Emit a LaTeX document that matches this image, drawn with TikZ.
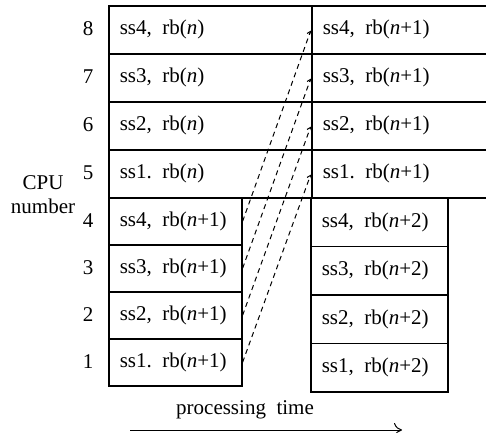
\documentclass[tikz,border=0pt]{standalone}
\usepackage{fontspec}
\setmainfont{Liberation Serif}
\usetikzlibrary{arrows.meta}
\tikzset{
  cell/.style={draw, line width=1.6pt, anchor=north west, inner xsep=11pt, inner ysep=0pt, align=left, font=\fontsize{21}{25}\selectfont},
  upl/.style={cell, text width=181pt, minimum height=48pt},
  upr/.style={cell, text width=153pt, minimum height=48pt},
  lol/.style={cell, text width=111pt, minimum height=47pt},
  lor/.style={cell, text width=115pt, minimum height=48.5pt},
  num/.style={inner sep=0pt, font=\fontsize{21}{24}\selectfont},
  hand/.style={line width=1pt, dash pattern=on 5pt off 4pt, -{Straight Barb[length=3pt, width=5pt]}, shorten >=1pt},
  tarr/.style={line width=1pt, -{To[length=8pt, width=14pt]}}
}
\newcommand{\rbn}[1]{\hspace{0.5em}rb(\textit{n}#1)}

\begin{document}
\begin{tikzpicture}[x=1pt, y=-1pt]
	\useasboundingbox (0,0) rectangle (486,432);
	% CPUs 5-8, step n and n+1
	\node[upl] (u8) at (108,5) {ss4,\rbn{}};
	\node[upl] (u7) at (108,53) {ss3,\rbn{}};
	\node[upl] (u6) at (108,101) {ss2,\rbn{}};
	\node[upl] (u5) at (108,149) {ss1.\rbn{}};
	\node[upr] (r8) at (311,5) {ss4,\rbn{+1}};
	\node[upr] (r7) at (311,53) {ss3,\rbn{+1}};
	\node[upr] (r6) at (311,101) {ss2,\rbn{+1}};
	\node[upr] (r5) at (311,149) {ss1.\rbn{+1}};
	% CPUs 1-4, step n+1 and n+2
	\node[lol] (l4) at (108,197) {ss4,\rbn{+1}};
	\node[lol] (l3) at (108,244) {ss3,\rbn{+1}};
	\node[lol] (l2) at (108,291) {ss2,\rbn{+1}};
	\node[lol] (l1) at (108,338) {ss1.\rbn{+1}};
	\node[lor] (s4) at (310,197) {ss4,\rbn{+2}};
	\node[lor] (s3) at (310,245.5) {ss3,\rbn{+2}};
	\node[lor] (s2) at (310,294) {ss2,\rbn{+2}};
	\node[lor] (s1) at (310,342.5) {ss1,\rbn{+2}};
	% axis labels
	\node[num] (c8) at (88,29) {8};
	\node[num] (c7) at (88,77) {7};
	\node[num] (c6) at (88,125) {6};
	\node[num] (c5) at (88,173) {5};
	\node[num] (c4) at (88,220.5) {4};
	\node[num] (c3) at (88,267.5) {3};
	\node[num] (c2) at (88,314.5) {2};
	\node[num] (c1) at (88,361.5) {1};
	\node[num, align=center] (cpu) at (43,195) {CPU\\number};
	% hand-over of the boundaries
	\draw[hand] (l4.east) -- (r8.west);
	\draw[hand] (l3.east) -- (r7.west);
	\draw[hand] (l2.east) -- (r6.west);
	\draw[hand] (l1.east) -- (r5.west);
	% time axis
	\node[num] (pt) at (245,410) {processing\ \ time};
	\coordinate (t0) at (130,430);
	\coordinate (t1) at (402,430);
	\draw[tarr] (t0) -- (t1);
\end{tikzpicture}
\end{document}
